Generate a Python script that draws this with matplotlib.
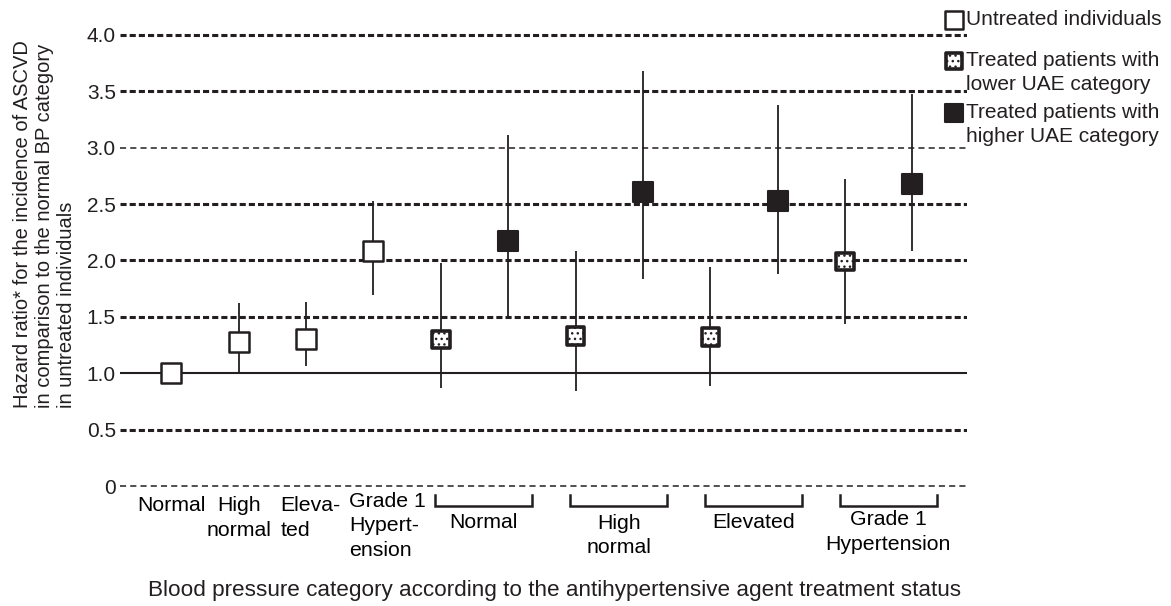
import numpy as np
import matplotlib
matplotlib.use("Agg")
import matplotlib.pyplot as plt

plt.rcParams['font.family'] = ['Liberation Sans', 'DejaVu Sans']
plt.rcParams['hatch.linewidth'] = 1.0

# Données
# 0-3 : non traités, puis paires (UAE bas, UAE haut) pour les traités
hr_untreated = [1.00, 1.28, 1.30, 2.08]
lo_untreated = [1.00, 1.00, 1.06, 1.69]
hi_untreated = [1.00, 1.62, 1.63, 2.53]

hr_low = [1.30, 1.33, 1.32, 1.99]
lo_low = [0.87, 0.84, 0.89, 1.44]
hi_low = [1.98, 2.08, 1.94, 2.72]

hr_high = [2.17, 2.61, 2.53, 2.68]
lo_high = [1.50, 1.84, 1.88, 2.08]
hi_high = [3.11, 3.68, 3.38, 3.48]

labels_untreated = ["Normal", "High\nnormal", "Eleva-\nted", "Grade 1\nHypert-\nension"]
labels_treated = ["Normal", "High\nnormal", "Elevated", "Grade 1\nHypertension"]
legend_labels = ["Untreated individuals", "Treated patients with\nlower UAE category",
                 "Treated patients with\nhigher UAE category"]

yticks = [0, 0.5, 1.0, 1.5, 2.0, 2.5, 3.0, 3.5, 4.0]
yticklabels = ["0", "0.5", "1.0", "1.5", "2.0", "2.5", "3.0", "3.5", "4.0"]

x_untreated = np.arange(4)
x_low = 4 + 2 * np.arange(4)
x_high = x_low + 1

col = '#231f20'
sty_untreated = dict(marker='s', facecolor='white', edgecolor=col, linewidths=1.8)
sty_low = dict(marker='s', facecolor='white', edgecolor=col, linewidths=2.6, hatch='...')
sty_high = dict(marker='s', facecolor=col, edgecolor=col, linewidths=1.5)

fig = plt.figure(figsize=(11.71, 6.06), dpi=100)
ax = fig.add_axes([0.1025, 0.1794, 0.7233, 0.7815])
ax.set_xlim(-0.76, 11.81)
ax.set_ylim(-0.1, 4.1)

# lignes horizontales
for y in yticks:
    if y == 1.0:
        ax.axhline(y, color=col, lw=1.5, zorder=1)
    elif y in (0, 3.0):
        ax.axhline(y, color=col, lw=1.1, dashes=(4, 2.7), zorder=1)
    else:
        ax.axhline(y, color=col, lw=2.2, dashes=(2, 1), zorder=1)

# intervalles de confiance
ax.vlines(x_untreated, lo_untreated, hi_untreated, color=col, lw=1.3, zorder=2)
ax.vlines(x_low, lo_low, hi_low, color=col, lw=1.3, zorder=2)
ax.vlines(x_high, lo_high, hi_high, color=col, lw=1.3, zorder=2)

ax.scatter(x_untreated, hr_untreated, s=190, zorder=3, **sty_untreated)
ax.scatter(x_low, hr_low, s=160, zorder=3, **sty_low)
ax.scatter(x_high, hr_high, s=220, zorder=3, **sty_high)

for sp in ax.spines.values():
    sp.set_visible(False)
ax.set_xticks([])
ax.set_yticks(yticks)
ax.set_yticklabels(yticklabels, fontsize=15, color=col)
ax.tick_params(axis='y', length=0, pad=3)

# étiquettes des catégories (non traités)
fs_cat = 15.3
ls_cat = 1.38
ax.text(0, -0.09, labels_untreated[0], ha='center', va='top', fontsize=fs_cat, clip_on=False)
ax.text(1, -0.09, labels_untreated[1], ha='center', va='top', fontsize=fs_cat, clip_on=False,
        linespacing=ls_cat)
ax.text(1.62, -0.09, labels_untreated[2], ha='left', va='top', fontsize=fs_cat, clip_on=False,
        linespacing=ls_cat)
ax.text(2.64, -0.05, labels_untreated[3], ha='left', va='top', fontsize=fs_cat, clip_on=False,
        linespacing=ls_cat)

# accolades et étiquettes (traités)
label_y = [-0.24, -0.245, -0.24, -0.215]
for i, xl in enumerate(x_low):
    x0, x1 = xl - 0.08, xl + 1.36
    ax.plot([x0, x0, x1, x1], [-0.08, -0.18, -0.18, -0.08], color=col, lw=1.8,
            clip_on=False, solid_joinstyle='miter')
    ax.text((x0 + x1) / 2, label_y[i], labels_treated[i], ha='center', va='top',
            fontsize=fs_cat, clip_on=False, linespacing=ls_cat)

fig.text(0.474, 0.026, "Blood pressure category according to the antihypertensive agent treatment status",
         ha='center', va='center', fontsize=16.2, color=col)
fig.text(0.038, 0.327, "Hazard ratio* for the incidence of ASCVD\nin comparison to the normal BP category\nin untreated individuals",
         rotation=90, ha='center', va='bottom', multialignment='left', fontsize=14.5,
         color=col, linespacing=1.2)

# légende (coordonnées en pixels de la figure)
lax = fig.add_axes([0, 0, 1, 1], facecolor='none')
lax.set_xlim(0, 1171)
lax.set_ylim(606, 0)
lax.axis('off')
leg_y = [20, 61, 113]
lax.scatter([954], [leg_y[0]], s=150, **sty_untreated)
lax.scatter([954], [leg_y[1]], s=130, **sty_low)
lax.scatter([954], [leg_y[2]], s=170, **sty_high)
for yy, lab in zip(leg_y, legend_labels):
    lax.text(966, yy - 10, lab, ha='left', va='top', fontsize=15, color=col,
             linespacing=1.3)

fig.savefig("out.png", dpi=100)
